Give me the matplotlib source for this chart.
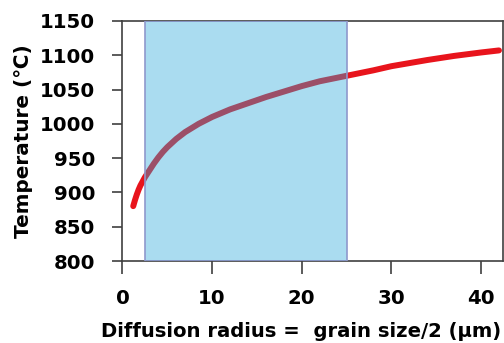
import numpy as np
import matplotlib
matplotlib.use("Agg")
import matplotlib.pyplot as plt

# values
radius = [1.2, 1.4, 1.6, 1.8, 2.0, 2.25, 2.5, 2.75, 3.0, 3.5, 4.0, 4.5, 5.0,
          6.0, 7.0, 8.5, 10, 12, 14, 16, 18, 20, 22, 25, 28, 30, 34, 37,
          40, 42]
temperature = [880, 889, 897, 904, 910, 916, 922, 927, 932, 942, 951, 959,
               966, 978, 988, 1000, 1010, 1021, 1030, 1039, 1047, 1055, 1062,
               1070, 1078, 1084, 1093, 1099, 1104, 1107]
band = (2.5, 25)
xticks = [0, 10, 20, 30, 40]
yticks = [800, 850, 900, 950, 1000, 1050, 1100, 1150]


def main():
    fig = plt.figure(figsize=(5.04, 3.43), dpi=100)
    ax = fig.add_axes([0.243, 0.239, 0.755, 0.700])

    ax.plot(radius, temperature, color="#e8141c", lw=4.3,
            solid_capstyle="round", solid_joinstyle="round", zorder=2)
    ax.axvspan(band[0], band[1], facecolor=(0.17, 0.66, 0.86, 0.4),
               edgecolor="#8f98cc", lw=1.2, zorder=3)

    ax.set_xlim(0, 42.45)
    ax.set_ylim(800, 1150)
    ax.set_xticks(xticks)
    ax.set_yticks(yticks)
    ax.tick_params(axis="x", direction="out", length=9, width=1.2,
                   color="#404040", pad=11, labelsize=14.2)
    ax.tick_params(axis="y", direction="out", length=7.5, width=1.2,
                   color="#404040", pad=12, labelsize=14.2)
    for lab in ax.get_xticklabels() + ax.get_yticklabels():
        lab.set_fontweight("bold")
    for s in ax.spines.values():
        s.set_color("#404040")
        s.set_linewidth(1.2)

    ax.set_xlabel("Diffusion radius =  grain size/2 (\u03bcm)",
                  fontsize=14.1, fontweight="bold", ha="right",
                  va="baseline")
    ax.xaxis.set_label_coords(0.996, -0.316)
    ax.set_ylabel("Temperature (\u2103)", fontsize=14.4,
                  fontweight="bold", labelpad=5)

    fig.savefig("out.png", dpi=100)


if __name__ == "__main__":
    main()
